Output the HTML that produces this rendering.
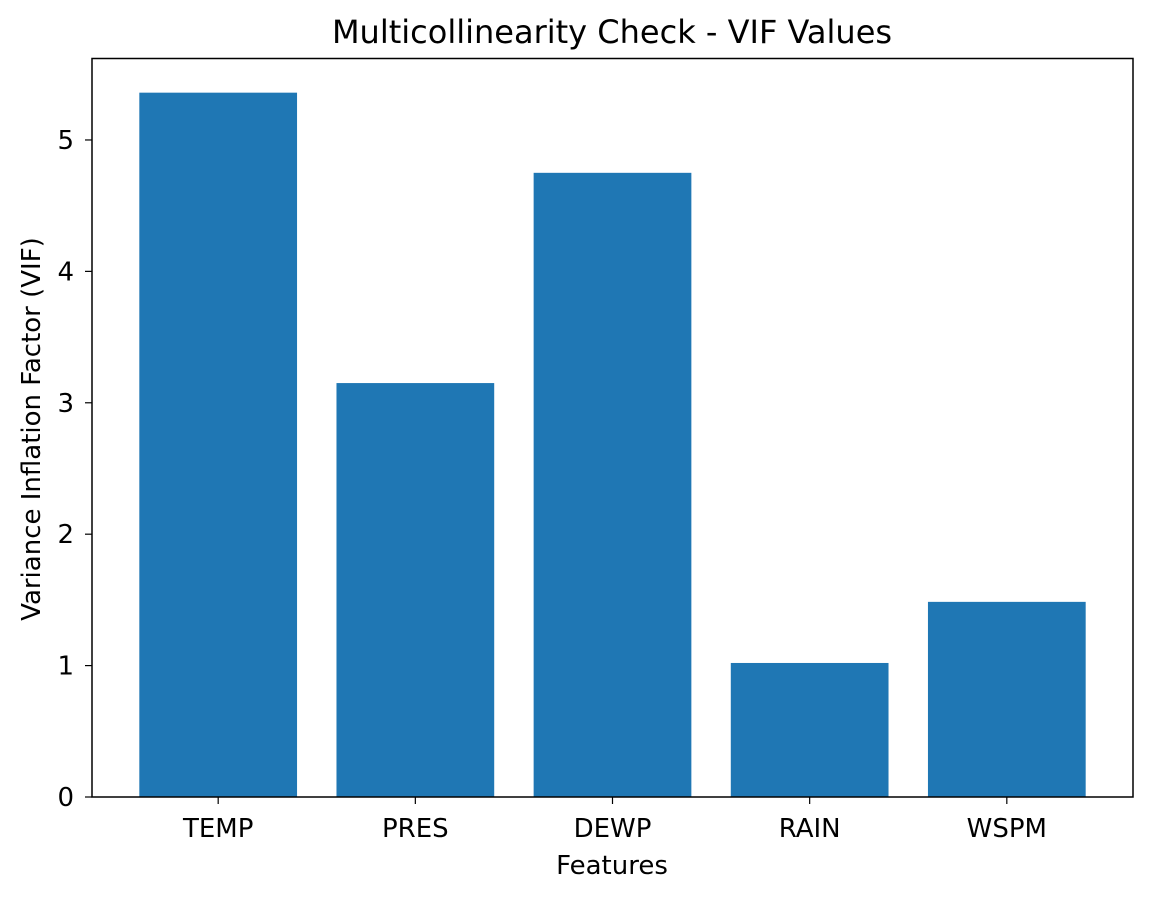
<!DOCTYPE html>
<html><head><meta charset="utf-8"><style>
body{margin:0;background:#fff;}
svg text{font-family:"DejaVu Sans","Liberation Sans",sans-serif;fill:#000;}
</style></head><body>
<svg id="chart" width="1152" height="898">
<text x="612" y="43" font-size="32" text-anchor="middle">Multicollinearity Check - VIF Values</text>
<g id="bars"></g><g id="xticks"></g><g id="yticks"></g>
<rect x="92" y="58.5" width="1041" height="738.5" fill="none" stroke="#000" stroke-width="1.5"/>
<text x="612" y="874" font-size="26" text-anchor="middle">Features</text>
<text transform="translate(40,429) rotate(-90)" font-size="26" text-anchor="middle">Variance Inflation Factor (VIF)</text>
</svg>
<script>
const categories=["TEMP","PRES","DEWP","RAIN","WSPM"];
const vifValues=[5.36,3.15,4.75,1.02,1.485];
const yTicks=[0,1,2,3,4,5];
const L=92,R=1133,T=58.5,B=797;
const xMin=-0.64,xMax=4.64,yMax=5.62;
const xs=v=>L+(v-xMin)/(xMax-xMin)*(R-L);
const ys=v=>B-v/yMax*(B-T);
const NS="http://www.w3.org/2000/svg";
const bars=document.getElementById('bars'),xt=document.getElementById('xticks'),yt=document.getElementById('yticks');
categories.forEach((c,i)=>{
  const r=document.createElementNS(NS,'rect');
  const x0=xs(i-0.4),x1=xs(i+0.4);
  r.setAttribute('x',x0);r.setAttribute('width',x1-x0);
  r.setAttribute('y',ys(vifValues[i]));r.setAttribute('height',B-ys(vifValues[i]));
  r.setAttribute('fill','#1f77b4');
  
  
  bars.appendChild(r);
  const l=document.createElementNS(NS,'line');
  l.setAttribute('x1',xs(i));l.setAttribute('x2',xs(i));l.setAttribute('y1',B);l.setAttribute('y2',B+7);
  l.setAttribute('stroke','#000');l.setAttribute('stroke-width','1.2');
  
  
  xt.appendChild(l);
  const t=document.createElementNS(NS,'text');
  t.setAttribute('x',xs(i));t.setAttribute('y',B+40);t.setAttribute('font-size','26');t.setAttribute('text-anchor','middle');
  t.textContent=c;
  
  
  xt.appendChild(t);
});
yTicks.forEach(v=>{
  const y=ys(v);
  const l=document.createElementNS(NS,'line');
  l.setAttribute('x1',L-7);l.setAttribute('x2',L);l.setAttribute('y1',y);l.setAttribute('y2',y);
  l.setAttribute('stroke','#000');l.setAttribute('stroke-width','1.2');
  
  
  yt.appendChild(l);
  const t=document.createElementNS(NS,'text');
  t.setAttribute('x',L-18);t.setAttribute('y',y+9);t.setAttribute('font-size','26');t.setAttribute('text-anchor','end');
  t.textContent=v;
  
  
  yt.appendChild(t);
});
</script>
</body></html>
